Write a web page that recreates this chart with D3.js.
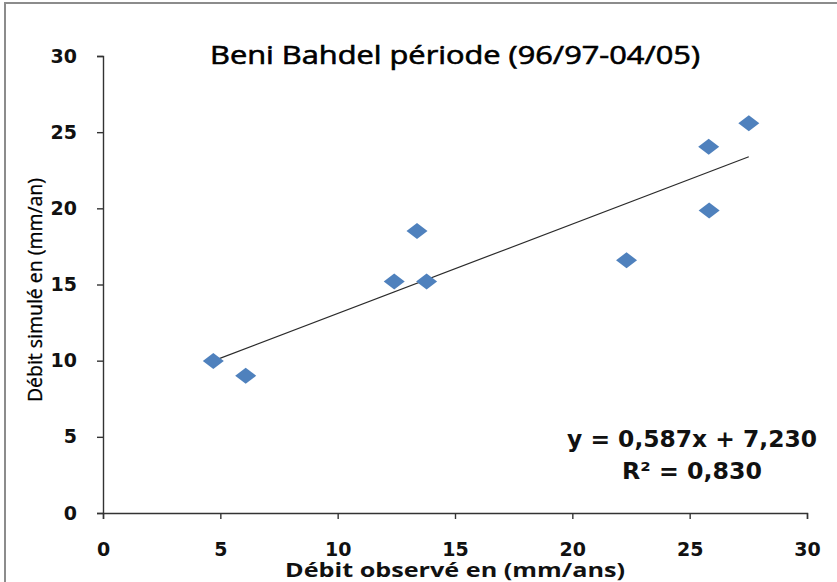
<!DOCTYPE html>
<html>
<head>
<meta charset="utf-8">
<script src="https://cdn.jsdelivr.net/npm/d3@7"></script>
<style>
  body { margin: 0; background: #fff; }
  svg { display: block; }
</style>
</head>
<body>
<script>
var width = 837;
var height = 582;

// observed (x) vs simulated (y) discharge
var observed = [4.70, 6.08, 12.41, 13.38, 13.79, 22.31, 25.81, 25.83, 27.52];
var simulated = [9.98, 9.01, 15.19, 18.52, 15.19, 16.59, 24.05, 19.85, 25.59];
var xTicks = [0, 5, 10, 15, 20, 25, 30];
var yTicks = [0, 5, 10, 15, 20, 25, 30];
var slope = 0.587;
var intercept = 7.230;
var r2 = 0.830;

var title = "Beni Bahdel période (96/97-04/05)";
var xTitle = "Débit observé en (mm/ans)";
var yTitle = "Débit simulé en (mm/an)";

var svg = d3.select("body")
  .append("svg")
  .attr("width", width)
  .attr("height", height);

// chart area border (right/bottom are off the picture)
svg.append("rect")
  .attr("x", 5)
  .attr("y", 3)
  .attr("width", 900)
  .attr("height", 700)
  .attr("fill", "#fff")
  .attr("stroke", "#8c8c8c")
  .attr("stroke-width", 2);

var x = d3.scaleLinear().domain([0, 30]).range([103, 807]);
var y = d3.scaleLinear().domain([0, 30]).range([513, 56]);

var axisFont = "'DejaVu Sans', Verdana, sans-serif";

var gx = svg.append("g")
  .attr("transform", "translate(0," + y(0) + ")")
  .call(d3.axisBottom(x).tickValues(xTicks).tickSize(6).tickPadding(24));

var gy = svg.append("g")
  .attr("transform", "translate(" + x(0) + ",0)")
  .call(d3.axisLeft(y).tickValues(yTicks).tickSize(6).tickPadding(20));

[gx, gy].forEach(function(g) {
  g.selectAll("path, line").attr("stroke", "#333").attr("stroke-width", 1.4);
  g.selectAll("text")
    .attr("fill", "#111")
    .attr("font-family", axisFont)
    .attr("font-weight", "bold")
    .attr("font-size", 19);
});

// trendline over the range of the observed values
var ext = d3.extent(observed);
svg.append("line")
  .attr("x1", x(ext[0]))
  .attr("y1", y(slope * ext[0] + intercept))
  .attr("x2", x(ext[1]))
  .attr("y2", y(slope * ext[1] + intercept))
  .attr("stroke", "#2b2b2b")
  .attr("stroke-width", 1.2);

// diamond markers
var points = observed.map(function(d, i) { return [d, simulated[i]]; });
svg.selectAll("path.pt")
  .data(points)
  .enter()
  .append("path")
  .attr("class", "pt")
  .attr("d", "M0,-8L10.5,0L0,8L-10.5,0Z")
  .attr("transform", function(d) {
    return "translate(" + x(d[0]) + "," + y(d[1]) + ")";
  })
  .attr("fill", "#4f81bd");

// title
svg.append("text")
  .attr("x", 455)
  .attr("y", 64)
  .attr("text-anchor", "middle")
  .attr("font-family", "'Open Sans', sans-serif")
  .attr("font-size", 25)
  .attr("textLength", 490)
  .attr("lengthAdjust", "spacingAndGlyphs")
  .attr("fill", "#000")
  .attr("stroke", "#000")
  .attr("stroke-width", 0.6)
  .text(title);

// axis titles
svg.append("text")
  .attr("x", 455)
  .attr("y", 577)
  .attr("text-anchor", "middle")
  .attr("font-family", "'Open Sans', sans-serif")
  .attr("font-weight", "bold")
  .attr("font-size", 19)
  .attr("textLength", 340)
  .attr("lengthAdjust", "spacingAndGlyphs")
  .attr("fill", "#111")
  .text(xTitle);

svg.append("text")
  .attr("transform", "translate(42,290) rotate(-90)")
  .attr("text-anchor", "middle")
  .attr("font-family", "'Open Sans', sans-serif")
  .attr("font-size", 20)
  .attr("textLength", 224)
  .attr("lengthAdjust", "spacingAndGlyphs")
  .attr("fill", "#000")
  .attr("stroke", "#000")
  .attr("stroke-width", 0.3)
  .text(yTitle);

// regression equation
var fmt = function(v) { return d3.format(".3f")(v).replace(".", ","); };
var eq = svg.append("g")
  .attr("font-family", axisFont)
  .attr("font-weight", "bold")
  .attr("font-size", 23)
  .attr("fill", "#111")
  .attr("text-anchor", "middle");
eq.append("text")
  .attr("x", 692)
  .attr("y", 447)
  .attr("textLength", 250)
  .attr("lengthAdjust", "spacingAndGlyphs")
  .text("y = " + fmt(slope) + "x + " + fmt(intercept));
eq.append("text")
  .attr("x", 692)
  .attr("y", 479)
  .attr("textLength", 140)
  .attr("lengthAdjust", "spacingAndGlyphs")
  .text("R² = " + fmt(r2));
</script>
</body>
</html>
